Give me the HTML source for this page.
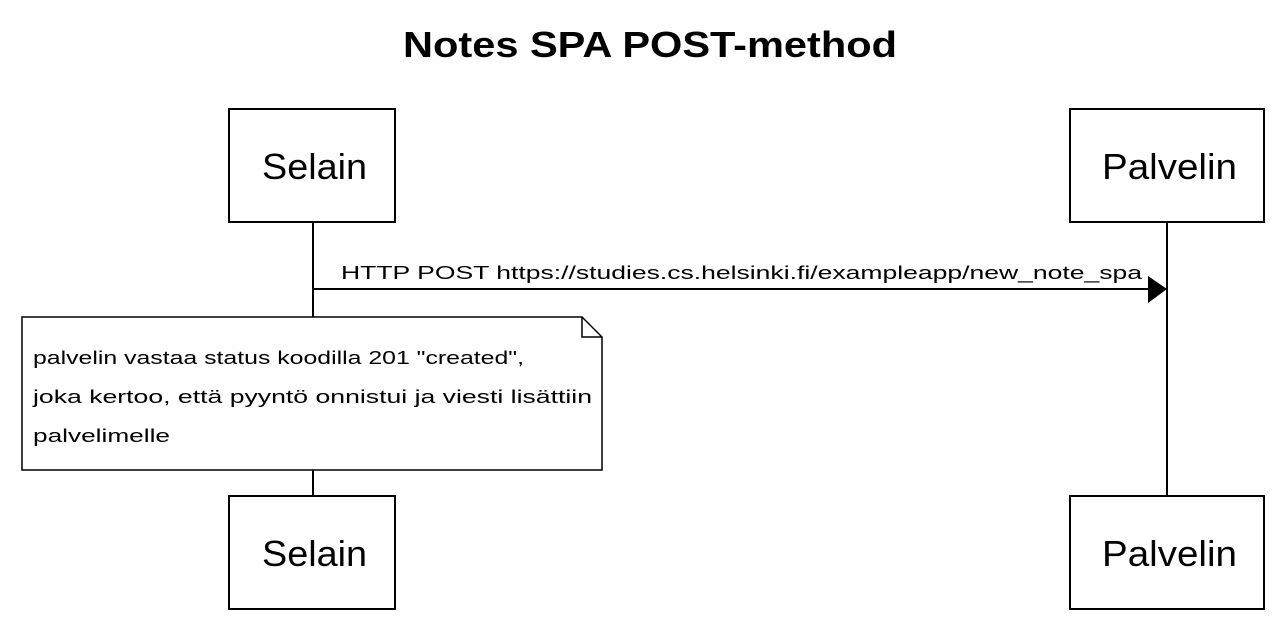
<!DOCTYPE html>
<html><head><meta charset="utf-8"><style>html,body{margin:0;padding:0;background:#fff}svg{display:block}</style></head>
<body>
<svg width="1282" height="632" xmlns="http://www.w3.org/2000/svg" font-family="Liberation Sans, Arial, sans-serif">
<rect width="1282" height="632" fill="#fff"/>
<text x="403" y="57" font-size="36" font-weight="bold" fill="#000" textLength="494" lengthAdjust="spacingAndGlyphs">Notes SPA POST-method</text>
<line x1="313" y1="222" x2="313" y2="496" stroke="#000" stroke-width="2"/>
<line x1="1167" y1="222" x2="1167" y2="496" stroke="#000" stroke-width="2"/>
<rect x="229" y="109" width="166" height="113" fill="#fff" stroke="#000" stroke-width="2"/>
<rect x="1070" y="109" width="194" height="113" fill="#fff" stroke="#000" stroke-width="2"/>
<rect x="229" y="496" width="166" height="113" fill="#fff" stroke="#000" stroke-width="2"/>
<rect x="1070" y="496" width="194" height="113" fill="#fff" stroke="#000" stroke-width="2"/>
<text x="262" y="179" font-size="36" textLength="105" lengthAdjust="spacingAndGlyphs">Selain</text>
<text x="1102" y="179" font-size="36" textLength="135" lengthAdjust="spacingAndGlyphs">Palvelin</text>
<text x="262" y="566" font-size="36" textLength="105" lengthAdjust="spacingAndGlyphs">Selain</text>
<text x="1102" y="566" font-size="36" textLength="135" lengthAdjust="spacingAndGlyphs">Palvelin</text>
<line x1="313" y1="289" x2="1150" y2="289" stroke="#000" stroke-width="2"/>
<polygon points="1148,276 1167,289 1148,303" fill="#000"/>
<text x="341" y="279" font-size="18.5" textLength="801" lengthAdjust="spacingAndGlyphs">HTTP POST https://studies.cs.helsinki.fi/exampleapp/new_note_spa</text>
<path d="M22,317 H582 L602,337 V470 H22 Z" fill="#fff" stroke="#000" stroke-width="1.5"/>
<path d="M582,317 V337 H602" fill="none" stroke="#000" stroke-width="1.5"/>
<text x="33" y="364" font-size="18.5" textLength="491" lengthAdjust="spacingAndGlyphs">palvelin vastaa status koodilla 201 "created",</text>
<text x="33" y="403" font-size="18.5" textLength="559" lengthAdjust="spacingAndGlyphs">joka kertoo, että pyyntö onnistui ja viesti lisättiin</text>
<text x="33" y="442" font-size="18.5" textLength="137" lengthAdjust="spacingAndGlyphs">palvelimelle</text>
</svg>
</body></html>
